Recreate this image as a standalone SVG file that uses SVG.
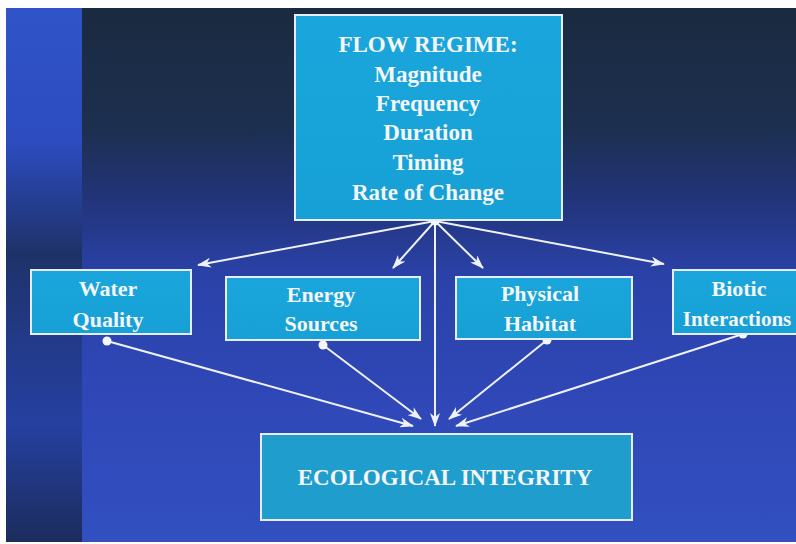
<svg xmlns="http://www.w3.org/2000/svg" width="796" height="544" viewBox="0 0 796 544">
<defs>
<linearGradient id="bgMain" x1="0" y1="0" x2="0" y2="1">
<stop offset="0" stop-color="#1a2a40"/>
<stop offset="0.22" stop-color="#1c2f4e"/>
<stop offset="0.36" stop-color="#22347a"/>
<stop offset="0.5" stop-color="#2a42a8"/>
<stop offset="0.75" stop-color="#3048b8"/>
<stop offset="1" stop-color="#3250c0"/>
</linearGradient>
<linearGradient id="bgLeft" x1="0" y1="0" x2="0" y2="1">
<stop offset="0" stop-color="#3054c8"/>
<stop offset="0.25" stop-color="#2c4cc0"/>
<stop offset="0.46" stop-color="#1e3268"/>
<stop offset="0.62" stop-color="#223a88"/>
<stop offset="0.78" stop-color="#2540a0"/>
<stop offset="1" stop-color="#1c2c5c"/>
</linearGradient>
<linearGradient id="boxFill" x1="0" y1="0" x2="0" y2="1">
<stop offset="0" stop-color="#1aa6dc"/>
<stop offset="1" stop-color="#16a0d6"/>
</linearGradient>
<marker id="arr" viewBox="0 0 14 10" refX="13" refY="5" markerWidth="14" markerHeight="10" markerUnits="userSpaceOnUse" orient="auto">
<path d="M0,0 L14,5 L0,10 L4,5 Z" fill="#eef2f8"/>
</marker>
<style>
.box{fill:url(#boxFill);stroke:#e6eef4;stroke-width:2}
.eco{fill:#1f9dcd;stroke:#e6eef4;stroke-width:2}
.t{font-family:"Liberation Serif","Times New Roman",serif;font-weight:bold;fill:#f4f6f8;text-anchor:middle}
.big{font-size:23px}
.mid{font-size:22px}
.sm{font-size:21px}
.ln{stroke:#eef2f8;stroke-width:2;fill:none}
.dot{fill:#f4f6f8}
</style>
</defs>
<rect x="0" y="0" width="796" height="544" fill="#ffffff"/>
<rect x="6" y="8" width="790" height="534" fill="url(#bgMain)"/>
<rect x="6" y="8" width="76" height="534" fill="url(#bgLeft)"/>

<g id="connectors">
<line class="ln" x1="435" y1="221" x2="198" y2="265" marker-end="url(#arr)"/>
<line class="ln" x1="435" y1="221" x2="393" y2="268" marker-end="url(#arr)"/>
<line class="ln" x1="435" y1="221" x2="435" y2="426" marker-end="url(#arr)"/>
<line class="ln" x1="435" y1="221" x2="483" y2="268" marker-end="url(#arr)"/>
<line class="ln" x1="435" y1="221" x2="664" y2="264" marker-end="url(#arr)"/>
<line class="ln" x1="107" y1="341" x2="413" y2="426" marker-end="url(#arr)"/>
<line class="ln" x1="323" y1="345" x2="421" y2="419" marker-end="url(#arr)"/>
<line class="ln" x1="547" y1="340" x2="449" y2="419" marker-end="url(#arr)"/>
<line class="ln" x1="743" y1="334" x2="456" y2="426" marker-end="url(#arr)"/>
<circle class="dot" cx="435" cy="221" r="4.5"/>
<circle class="dot" cx="107" cy="341" r="4.5"/>
<circle class="dot" cx="323" cy="345" r="4.5"/>
<circle class="dot" cx="547" cy="340" r="4.5"/>
<circle class="dot" cx="743" cy="334" r="4.5"/>
</g>

<g id="flow-regime">
<rect class="box" x="295" y="15" width="267" height="205"/>
<text class="t big" x="428" y="52">FLOW REGIME:</text>
<text class="t big" x="428" y="82">Magnitude</text>
<text class="t big" x="428" y="111">Frequency</text>
<text class="t big" x="428" y="140">Duration</text>
<text class="t big" x="428" y="170">Timing</text>
<text class="t big" x="428" y="200">Rate of Change</text>
</g>

<g id="water-quality">
<rect class="box" x="31" y="270" width="160" height="64"/>
<text class="t mid" x="108" y="296">Water</text>
<text class="t mid" x="108" y="327">Quality</text>
</g>

<g id="energy-sources">
<rect class="box" x="226" y="277" width="194" height="63"/>
<text class="t mid" x="321" y="302">Energy</text>
<text class="t mid" x="321" y="331">Sources</text>
</g>

<g id="physical-habitat">
<rect class="box" x="456" y="277" width="176" height="62"/>
<text class="t mid" x="540" y="301">Physical</text>
<text class="t mid" x="540" y="331">Habitat</text>
</g>

<g id="biotic-interactions">
<rect class="box" x="673" y="270" width="140" height="64"/>
<text class="t mid" x="739" y="296">Biotic</text>
<text class="t sm" x="737" y="326">Interactions</text>
</g>

<g id="ecological-integrity">
<rect class="eco" x="261" y="434" width="371" height="86"/>
<text class="t big" x="445" y="485">ECOLOGICAL INTEGRITY</text>
</g>
</svg>
